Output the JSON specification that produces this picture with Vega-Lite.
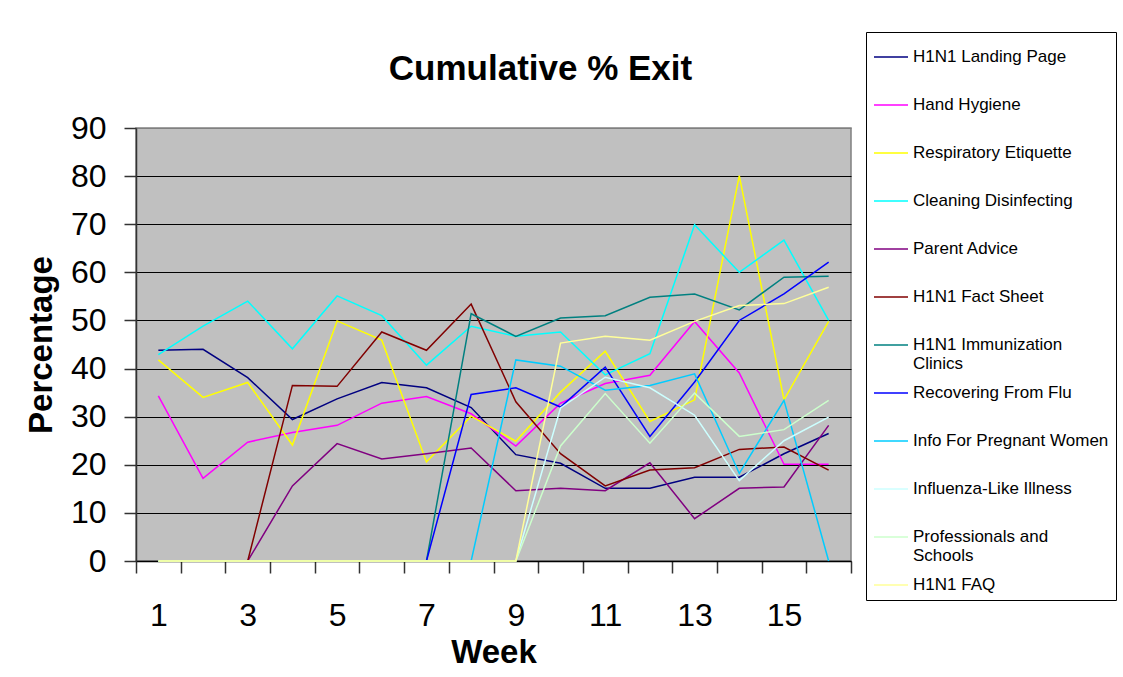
{
  "$schema": "https://vega.github.io/schema/vega-lite/v6.json",
  "autosize": {"type": "none"},
  "width": 715,
  "height": 433,
  "padding": {"left": 136, "top": 128, "right": 272, "bottom": 116},
  "background": "white",
  "title": {
    "text": "Cumulative % Exit",
    "font": "Liberation Sans",
    "fontSize": 35,
    "fontWeight": "bold",
    "color": "black",
    "anchor": "middle",
    "dx": 47,
    "baseline": "alphabetic",
    "offset": 0,
    "dy": 83
  },
  "data": {
    "values": [
      {"week": 1, "H1N1 Landing Page": 43.8, "Hand Hygiene": 34.3, "Respiratory Etiquette": 41.8, "Cleaning Disinfecting": 42.9, "Parent Advice": 0, "H1N1 Fact Sheet": 0, "H1N1 Immunization Clinics": 0, "Recovering From Flu": 0, "Info For Pregnant Women": 0, "Influenza-Like Illness": 0, "Professionals and Schools": 0, "H1N1 FAQ": 0},
      {"week": 2, "H1N1 Landing Page": 44.0, "Hand Hygiene": 17.2, "Respiratory Etiquette": 34.0, "Cleaning Disinfecting": 48.8, "Parent Advice": 0, "H1N1 Fact Sheet": 0, "H1N1 Immunization Clinics": 0, "Recovering From Flu": 0, "Info For Pregnant Women": 0, "Influenza-Like Illness": 0, "Professionals and Schools": 0, "H1N1 FAQ": 0},
      {"week": 3, "H1N1 Landing Page": 38.1, "Hand Hygiene": 24.7, "Respiratory Etiquette": 37.1, "Cleaning Disinfecting": 54.0, "Parent Advice": 0, "H1N1 Fact Sheet": 0, "H1N1 Immunization Clinics": 0, "Recovering From Flu": 0, "Info For Pregnant Women": 0, "Influenza-Like Illness": 0, "Professionals and Schools": 0, "H1N1 FAQ": 0},
      {"week": 4, "H1N1 Landing Page": 29.4, "Hand Hygiene": 26.7, "Respiratory Etiquette": 24.1, "Cleaning Disinfecting": 44.1, "Parent Advice": 15.6, "H1N1 Fact Sheet": 36.5, "H1N1 Immunization Clinics": 0, "Recovering From Flu": 0, "Info For Pregnant Women": 0, "Influenza-Like Illness": 0, "Professionals and Schools": 0, "H1N1 FAQ": 0},
      {"week": 5, "H1N1 Landing Page": 33.7, "Hand Hygiene": 28.2, "Respiratory Etiquette": 49.9, "Cleaning Disinfecting": 55.1, "Parent Advice": 24.4, "H1N1 Fact Sheet": 36.3, "H1N1 Immunization Clinics": 0, "Recovering From Flu": 0, "Info For Pregnant Women": 0, "Influenza-Like Illness": 0, "Professionals and Schools": 0, "H1N1 FAQ": 0},
      {"week": 6, "H1N1 Landing Page": 37.1, "Hand Hygiene": 32.8, "Respiratory Etiquette": 45.9, "Cleaning Disinfecting": 51.0, "Parent Advice": 21.2, "H1N1 Fact Sheet": 47.6, "H1N1 Immunization Clinics": 0, "Recovering From Flu": 0, "Info For Pregnant Women": 0, "Influenza-Like Illness": 0, "Professionals and Schools": 0, "H1N1 FAQ": 0},
      {"week": 7, "H1N1 Landing Page": 36.0, "Hand Hygiene": 34.2, "Respiratory Etiquette": 20.6, "Cleaning Disinfecting": 40.7, "Parent Advice": 22.3, "H1N1 Fact Sheet": 43.8, "H1N1 Immunization Clinics": 0, "Recovering From Flu": 0, "Info For Pregnant Women": 0, "Influenza-Like Illness": 0, "Professionals and Schools": 0, "H1N1 FAQ": 0},
      {"week": 8, "H1N1 Landing Page": 31.9, "Hand Hygiene": 30.6, "Respiratory Etiquette": 30.1, "Cleaning Disinfecting": 48.8, "Parent Advice": 23.5, "H1N1 Fact Sheet": 53.4, "H1N1 Immunization Clinics": 51.4, "Recovering From Flu": 34.6, "Info For Pregnant Women": 0, "Influenza-Like Illness": 0, "Professionals and Schools": 0, "H1N1 FAQ": 0},
      {"week": 9, "H1N1 Landing Page": 22.1, "Hand Hygiene": 23.9, "Respiratory Etiquette": 24.9, "Cleaning Disinfecting": 46.7, "Parent Advice": 14.6, "H1N1 Fact Sheet": 33.1, "H1N1 Immunization Clinics": 46.7, "Recovering From Flu": 36.0, "Info For Pregnant Women": 41.8, "Influenza-Like Illness": 0, "Professionals and Schools": 0, "H1N1 FAQ": 0},
      {"week": 10, "H1N1 Landing Page": 20.3, "Hand Hygiene": 32.8, "Respiratory Etiquette": 35.1, "Cleaning Disinfecting": 47.6, "Parent Advice": 15.1, "H1N1 Fact Sheet": 22.3, "H1N1 Immunization Clinics": 50.5, "Recovering From Flu": 32.0, "Info For Pregnant Women": 40.5, "Influenza-Like Illness": 31.8, "Professionals and Schools": 23.9, "H1N1 FAQ": 45.3},
      {"week": 11, "H1N1 Landing Page": 15.1, "Hand Hygiene": 36.9, "Respiratory Etiquette": 43.6, "Cleaning Disinfecting": 38.7, "Parent Advice": 14.6, "H1N1 Fact Sheet": 15.6, "H1N1 Immunization Clinics": 51.0, "Recovering From Flu": 40.3, "Info For Pregnant Women": 35.5, "Influenza-Like Illness": 38.2, "Professionals and Schools": 34.8, "H1N1 FAQ": 46.7},
      {"week": 12, "H1N1 Landing Page": 15.1, "Hand Hygiene": 38.6, "Respiratory Etiquette": 29.0, "Cleaning Disinfecting": 43.1, "Parent Advice": 20.4, "H1N1 Fact Sheet": 18.9, "H1N1 Immunization Clinics": 54.8, "Recovering From Flu": 25.9, "Info For Pregnant Women": 36.5, "Influenza-Like Illness": 36.0, "Professionals and Schools": 24.5, "H1N1 FAQ": 45.9},
      {"week": 13, "H1N1 Landing Page": 17.4, "Hand Hygiene": 49.8, "Respiratory Etiquette": 33.5, "Cleaning Disinfecting": 69.9, "Parent Advice": 8.8, "H1N1 Fact Sheet": 19.4, "H1N1 Immunization Clinics": 55.5, "Recovering From Flu": 37.2, "Info For Pregnant Women": 38.9, "Influenza-Like Illness": 30.3, "Professionals and Schools": 34.9, "H1N1 FAQ": 49.8},
      {"week": 14, "H1N1 Landing Page": 17.4, "Hand Hygiene": 39.1, "Respiratory Etiquette": 80.1, "Cleaning Disinfecting": 60.0, "Parent Advice": 15.1, "H1N1 Fact Sheet": 23.2, "H1N1 Immunization Clinics": 52.2, "Recovering From Flu": 50.0, "Info For Pregnant Women": 18.2, "Influenza-Like Illness": 16.7, "Professionals and Schools": 25.9, "H1N1 FAQ": 53.1},
      {"week": 15, "H1N1 Landing Page": 22.3, "Hand Hygiene": 20.1, "Respiratory Etiquette": 33.5, "Cleaning Disinfecting": 66.7, "Parent Advice": 15.4, "H1N1 Fact Sheet": 23.7, "H1N1 Immunization Clinics": 59.0, "Recovering From Flu": 55.5, "Info For Pregnant Women": 33.4, "Influenza-Like Illness": 25.0, "Professionals and Schools": 27.3, "H1N1 FAQ": 53.5},
      {"week": 16, "H1N1 Landing Page": 26.5, "Hand Hygiene": 20.1, "Respiratory Etiquette": 49.8, "Cleaning Disinfecting": 50.0, "Parent Advice": 28.2, "H1N1 Fact Sheet": 18.9, "H1N1 Immunization Clinics": 59.2, "Recovering From Flu": 62.1, "Info For Pregnant Women": 0, "Influenza-Like Illness": 29.9, "Professionals and Schools": 33.4, "H1N1 FAQ": 56.9}
    ]
  },
  "transform": [
    {"fold": ["H1N1 Landing Page", "Hand Hygiene", "Respiratory Etiquette", "Cleaning Disinfecting", "Parent Advice", "H1N1 Fact Sheet", "H1N1 Immunization Clinics", "Recovering From Flu", "Info For Pregnant Women", "Influenza-Like Illness", "Professionals and Schools", "H1N1 FAQ"], "as": ["page", "pct"]}
  ],
  "mark": {"type": "line", "strokeWidth": 1.5, "clip": false},
  "encoding": {
    "x": {
      "field": "week",
      "type": "quantitative",
      "scale": {"domain": [0.5, 16.5], "nice": false, "zero": false},
      "axis": {
        "title": "Week",
        "values": [0.5, 1.5, 2.5, 3.5, 4.5, 5.5, 6.5, 7.5, 8.5, 9.5, 10.5, 11.5, 12.5, 13.5, 14.5, 15.5, 16.5],
        "labelExpr": "((datum.value + 0.5) % 2 == 1 && datum.value < 16) ? '' + (datum.value + 0.5) : ''",
        "labelOffset": 22.34,
        "labelOverlap": false,
        "labelFlush": false,
        "labelBound": false,
        "labelFontSize": 32,
        "labelPadding": 27,
        "labelColor": "black",
        "tickSize": 12,
        "tickColor": "#333333",
        "tickWidth": 1.5,
        "domainColor": "black",
        "domainWidth": 1.5,
        "grid": false,
        "titleFontSize": 33,
        "titleFontWeight": "bold",
        "titleColor": "black",
        "titlePadding": 5
      }
    },
    "y": {
      "field": "pct",
      "type": "quantitative",
      "scale": {"domain": [0, 90], "nice": false},
      "axis": {
        "title": "Percentage",
        "values": [0, 10, 20, 30, 40, 50, 60, 70, 80, 90],
        "labelFontSize": 32,
        "labelPadding": 18,
        "labelColor": "black",
        "tickSize": 12,
        "tickColor": "#333333",
        "tickWidth": 1.5,
        "domainColor": "#333333",
        "domainWidth": 1.5,
        "grid": true,
        "gridColor": {"condition": {"test": "datum.value == 90", "value": "#808080"}, "value": "black"},
        "gridWidth": 1.2,
        "gridOpacity": 1,
        "titleFontSize": 33,
        "titleFontWeight": "bold",
        "titleColor": "black",
        "titlePadding": 12
      }
    },
    "color": {
      "field": "page",
      "type": "nominal",
      "scale": {
        "domain": ["H1N1 Landing Page", "Hand Hygiene", "Respiratory Etiquette", "Cleaning Disinfecting", "Parent Advice", "H1N1 Fact Sheet", "H1N1 Immunization Clinics", "Recovering From Flu", "Info For Pregnant Women", "Influenza-Like Illness", "Professionals and Schools", "H1N1 FAQ"],
        "range": ["#000080", "#FF00FF", "#FFFF00", "#00FFFF", "#800080", "#800000", "#008080", "#0000FF", "#00CCFF", "#CCFFFF", "#CCFFCC", "#FFFF99"]
      },
      "legend": {
        "title": null,
        "orient": "none",
        "legendX": 730,
        "legendY": -96,
        "symbolType": "stroke",
        "symbolSize": 1156,
        "symbolStrokeWidth": 1.5,
        "labelFontSize": 17,
        "labelColor": "black",
        "labelLimit": 400,
        "labelOffset": 4,
        "labelExpr": "datum.label == 'H1N1 Immunization Clinics' ? ['H1N1 Immunization', 'Clinics'] : datum.label == 'Professionals and Schools' ? ['Professionals and', 'Schools'] : datum.label",
        "gridAlign": "all",
        "rowPadding": 3,
        "padding": 7,
        "strokeColor": "black",
        "fillColor": "white"
      }
    }
  },
  "config": {
    "font": "Liberation Sans",
    "view": {"fill": "#C0C0C0", "stroke": "#808080", "strokeWidth": 1.5}
  }
}
